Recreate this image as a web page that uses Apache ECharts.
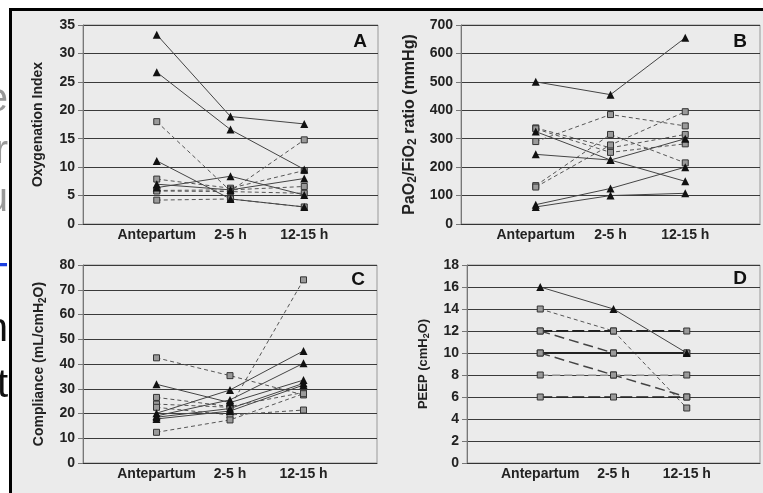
<!DOCTYPE html>
<html>
<head>
<meta charset="utf-8">
<script src="https://cdn.jsdelivr.net/npm/echarts@6/dist/echarts.min.js"></script>
<style>
html, body { margin: 0; padding: 0; background: #fff; }
#frame { position: absolute; left: 9px; top: 8px; width: 751px; height: 482px; background: #ebebeb; border-left: 3px solid #000; border-top: 3px solid #000; }
#main { position: absolute; left: 0; top: 0; width: 763px; height: 493px; }
</style>
</head>
<body>
<div id="frame"></div>
<div id="main"></div>
<script>
var categories = ['Antepartum', '2-5 h', '12-15 h'];

// A - oxygenation index, one row per patient
var oiTriangles = [[33.3, 18.9, 17.6], [26.7, 16.6, 9.6], [11.1, 4.4, 3.0], [6.4, 8.4, 5.1], [7.0, 6.0, 8.0]];
var oiSquares = [[18.0, 5.8, 14.8], [7.9, 6.3, 9.4], [5.9, 6.0, 6.6], [5.8, 5.7, 5.4], [4.2, 4.4, 3.0]];
var oiTicks = [0, 5, 10, 15, 20, 25, 30, 35];

// B - PaO2/FiO2
var pfTriangles = [[500, 455, 655], [325, 225, 150], [245, 225, 300], [68, 125, 200], [60, 100, 108]];
var pfSquares = [[290, 385, 345], [338, 268, 315], [335, 252, 282], [135, 315, 215], [130, 278, 395]];
var pfTicks = [0, 100, 200, 300, 400, 500, 600, 700];

// C - compliance
var compTriangles = [[31.8, 24.4, 33.5], [20.1, 29.5, 45.3], [19.0, 25.5, 40.3], [18.5, 22.0, 32.2], [17.8, 21.0, 31.5]];
var compSquares = [[42.5, 35.3, 27.5], [26.5, 22.8, 28.5], [23.8, 22.5, 74.0], [22.5, 19.4, 21.4], [12.4, 17.4, 28.0]];
var compTicks = [0, 10, 20, 30, 40, 50, 60, 70, 80];

// D - PEEP
var peepTriangles = [[16, 14, 10]];
var peepSquares = [[14, 12, 5], [12, 12, 12], [12, 10, 10], [10, 10, 10], [10, 8, 6], [8, 8, 8], [6, 6, 6]];
var peepTicks = [0, 2, 4, 6, 8, 10, 12, 14, 16, 18];
var peepLineStyles = [
	{ color: '#555', width: 1, type: [4, 3] },
	{ color: '#222', width: 2, type: [12, 4] },
	{ color: '#444', width: 1.5, type: [10, 5] },
	{ color: '#222', width: 2, type: 'solid' },
	{ color: '#444', width: 1.5, type: [10, 5] },
	{ color: '#aaa', width: 1.5, type: [8, 4] },
	{ color: '#222', width: 1.5, type: [12, 4] }
];

var font = 'Liberation Sans, Arial, sans-serif';
var triLine = { color: '#444', width: 1, type: 'solid' };
var sqLine = { color: '#555', width: 1, type: [4, 3] };

var panels = [
	{ letter: 'A', tri: oiTriangles, sq: oiSquares, ticks: oiTicks, fs: 14,
	  name: '{t|Oxygenation Index}', grid: { left: 83, top: 25, width: 295, height: 199 }, gap: 36, at: [360, 42] },
	{ letter: 'B', tri: pfTriangles, sq: pfSquares, ticks: pfTicks, fs: 16,
	  name: '{t|PaO}{s|2}{t|/FiO}{s|2}{t| ratio (mmHg)}', grid: { left: 461, top: 25, width: 299, height: 199 }, gap: 42, at: [740, 42] },
	{ letter: 'C', tri: compTriangles, sq: compSquares, ticks: compTicks, fs: 14,
	  name: '{t|Compliance (mL/cmH}{s|2}{t|O)}', grid: { left: 83, top: 265, width: 294, height: 198 }, gap: 35, at: [358, 280] },
	{ letter: 'D', tri: peepTriangles, sq: peepSquares, ticks: peepTicks, sqStyles: peepLineStyles, fs: 13,
	  name: '{t|PEEP (cmH}{s|2}{t|O)}', grid: { left: 467, top: 265, width: 293, height: 198 }, gap: 36, at: [740, 279] }
];

function lineSeries(i, row, isTri, ls) {
	return {
		type: 'line',
		xAxisIndex: i,
		yAxisIndex: i,
		data: row.map(function (v, k) { return [k + 1, v]; }),
		symbol: isTri ? 'triangle' : 'rect',
		symbolSize: isTri ? 8 : 6,
		itemStyle: isTri ? { color: '#111' } : { color: '#9a9a9a', borderColor: '#333', borderWidth: 1 },
		lineStyle: ls,
		z: isTri ? 3 : 2,
		silent: true,
		animation: false
	};
}

var grids = [], xAxes = [], yAxes = [], series = [], graphics = [];

panels.forEach(function (p, i) {
	grids.push({ left: p.grid.left, top: p.grid.top, width: p.grid.width, height: p.grid.height,
		show: true, borderColor: '#999', borderWidth: 1, backgroundColor: 'transparent' });
	xAxes.push({
		type: 'value', gridIndex: i, min: 0, max: 4, interval: 1,
		axisLine: { show: true, lineStyle: { color: '#333' } },
		axisTick: { show: false },
		splitLine: { show: false },
		axisLabel: { margin: 4, fontSize: 14, fontWeight: 'bold', color: '#222', fontFamily: font,
			formatter: function (v) { return categories[v - 1] || ''; } }
	});
	yAxes.push({
		type: 'value', gridIndex: i,
		min: p.ticks[0], max: p.ticks[p.ticks.length - 1], interval: p.ticks[1] - p.ticks[0],
		name: p.name, nameLocation: 'middle', nameRotate: 90, nameGap: p.gap,
		nameTextStyle: {
			rich: {
				t: { fontSize: p.fs, fontWeight: 'bold', color: '#222', fontFamily: font, lineHeight: p.fs + 3 },
				s: { fontSize: p.fs - 4, fontWeight: 'bold', color: '#222', fontFamily: font, lineHeight: p.fs - 4, verticalAlign: 'bottom' }
			}
		},
		axisLine: { show: true, lineStyle: { color: '#777' } },
		axisTick: { show: true, length: 5, lineStyle: { color: '#777' } },
		splitLine: { show: true, lineStyle: { color: '#3a3a3a', width: 1 } },
		axisLabel: { margin: 8, fontSize: 14, fontWeight: 'bold', color: '#222', fontFamily: font }
	});
	p.sq.forEach(function (row, k) {
		series.push(lineSeries(i, row, false, p.sqStyles ? p.sqStyles[k] : sqLine));
	});
	p.tri.forEach(function (row) {
		series.push(lineSeries(i, row, true, triLine));
	});
	graphics.push({
		type: 'text', x: p.at[0], y: p.at[1], z: 10,
		style: { text: p.letter, font: 'bold 19px ' + font, fill: '#111', textAlign: 'center', textVerticalAlign: 'middle' }
	});
});

// cut-off glyphs of the page behind the figure, on the far left
[['e', '#999', 100], ['r', '#999', 152], ['u', '#999', 200], ['T', '#1a3ee0', 280], ['n', '#111', 330], ['t', '#111', 386]].forEach(function (g) {
	graphics.push({
		type: 'text', x: 8, y: g[2],
		style: { text: g[0], font: '40px ' + font, fill: g[1], textAlign: 'right', textVerticalAlign: 'middle' }
	});
});

var myChart = echarts.init(document.getElementById('main'));
var option = {
	animation: false,
	grid: grids,
	xAxis: xAxes,
	yAxis: yAxes,
	series: series,
	graphic: graphics
};
myChart.setOption(option);
</script>
</body>
</html>
